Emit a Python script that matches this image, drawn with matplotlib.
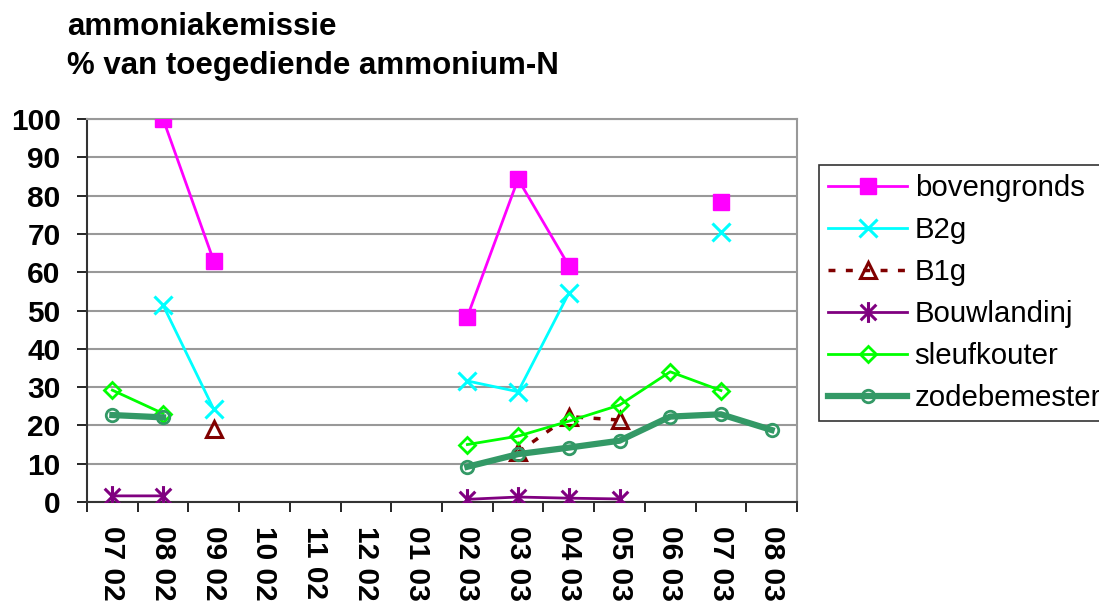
import numpy as np
import matplotlib
matplotlib.use("Agg")
import matplotlib.pyplot as plt
from matplotlib.path import Path

nan = np.nan

# categories (month year)
months = ["07 02", "08 02", "09 02", "10 02", "11 02", "12 02", "01 03",
          "02 03", "03 03", "04 03", "05 03", "06 03", "07 03", "08 03"]

bovengronds = [nan, 100, 62.9, nan, nan, nan, nan, 48.4, 84.3, 61.7, nan, nan, 78.2, nan]
b2g = [nan, 51.4, 24.2, nan, nan, nan, nan, 31.6, 28.8, 54.5, nan, nan, 70.4, nan]
b1g = [nan, nan, 19.0, nan, nan, nan, nan, nan, 13.0, 22.3, 21.4, nan, nan, nan]
bouwlandinj = [1.6, 1.6, nan, nan, nan, nan, nan, 0.7, 1.3, 1.0, 0.8, nan, nan, nan]
sleufkouter = [29.2, 23.1, nan, nan, nan, nan, nan, 15.0, 17.2, 21.1, 25.3, 34.0, 29.1, nan]
zodebemester = [22.7, 22.1, nan, nan, nan, nan, nan, 9.2, 12.5, 14.2, 16.0, 22.3, 22.9, 18.8]

plt.rcParams["font.family"] = ["Liberation Sans", "DejaVu Sans"]

# Excel-style star: vertical bar plus X
star = Path([(0, -1), (0, 1), (-0.75, -0.75), (0.75, 0.75), (-0.75, 0.75), (0.75, -0.75)],
            [Path.MOVETO, Path.LINETO, Path.MOVETO, Path.LINETO, Path.MOVETO, Path.LINETO])

fig = plt.figure(figsize=(10.99, 6.05), dpi=100)
ax = fig.add_axes([87 / 1099, 103 / 605, 710 / 1099, 383 / 605])

x = np.arange(len(months))
ax.plot(x, bovengronds, color="#FF00FF", lw=2, marker="s", ms=11, mec="#FF00FF",
        label="bovengronds", zorder=5)
ax.plot(x, b2g, color="#00FFFF", lw=2, marker="x", ms=13, mew=2.2, label="B2g", zorder=5)
ax.plot(x, b1g, color="#800000", lw=2.5, ls=(0, (2, 3)), marker="^", ms=12, mew=2.2,
        mfc="none", label="B1g", zorder=5)
ax.plot(x, bouwlandinj, color="#800080", lw=2, marker=star, ms=15, mew=2.2,
        label="Bouwlandinj", zorder=5)
ax.plot(x, sleufkouter, color="#00FF00", lw=2, marker="D", ms=8, mew=2, mfc="none",
        label="sleufkouter", zorder=5)
ax.plot(x, zodebemester, color="#339966", lw=4.5, marker="o", ms=9, mew=2, mfc="none",
        label="zodebemester", zorder=5)

ax.set_xlim(-0.5, len(months) - 0.5)
ax.set_ylim(0, 100)
ax.set_yticks(range(0, 101, 10))
ax.set_xticks(x)
ax.set_xticklabels(months, rotation=270, fontweight="bold", fontsize=21.5)
ax.set_xticks(np.arange(-0.5, len(months), 1), minor=True)
ax.tick_params(axis="x", which="major", length=0, pad=17)
ax.tick_params(axis="x", which="minor", length=7, width=1.2, direction="out")
ax.tick_params(axis="y", length=7, width=1.2, pad=12, labelsize=21.5)
for t in ax.get_yticklabels():
    t.set_fontweight("bold")

ax.grid(axis="y", color="#999999", lw=1.5)
ax.set_axisbelow(True)
ax.spines["left"].set_color("#333333")
ax.spines["bottom"].set_color("#333333")
ax.spines["left"].set_linewidth(1.5)
ax.spines["bottom"].set_linewidth(1.5)
ax.spines["top"].set_color("#999999")
ax.spines["right"].set_color("#999999")
ax.spines["top"].set_linewidth(1.5)
ax.spines["right"].set_linewidth(1.5)

leg = fig.legend(loc="upper left", bbox_to_anchor=(819 / 1099, 1 - 165 / 605),
                 fontsize=21.2, frameon=True, fancybox=False, handlelength=2.7,
                 handletextpad=0.25, labelspacing=0.48, borderpad=0.3, borderaxespad=0)
leg.get_frame().set_edgecolor("black")
leg.get_frame().set_linewidth(1.2)

fig.text(67 / 1099, 1 - 35 / 605, "ammoniakemissie", fontsize=22.5, fontweight="bold",
         va="baseline", ha="left")
fig.text(67 / 1099, 1 - 74 / 605, "% van toegediende ammonium-N", fontsize=22.5,
         fontweight="bold", va="baseline", ha="left")

fig.savefig("out.png", dpi=100)
